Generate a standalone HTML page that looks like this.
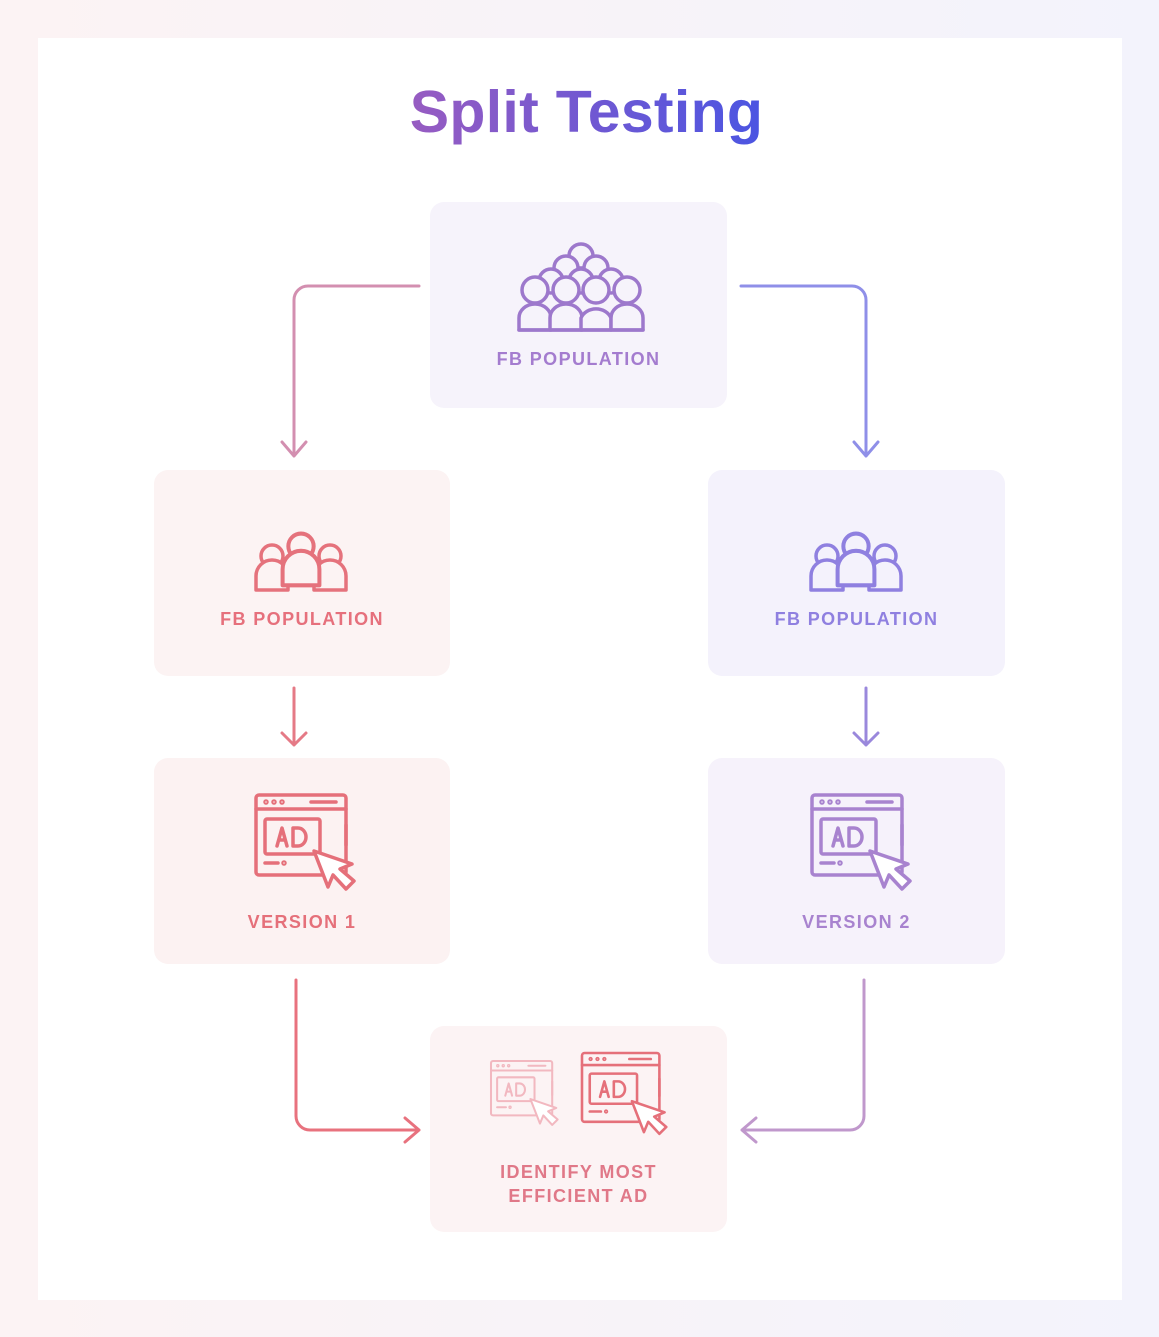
<!DOCTYPE html>
<html><head><meta charset="utf-8"><style>
html,body{margin:0;padding:0}
body{width:1159px;height:1337px;background:linear-gradient(90deg,#fcf3f4,#f3f3fc);position:relative;font-family:"Liberation Sans",sans-serif;overflow:hidden}
.card{position:absolute;left:38px;top:38px;width:1084px;height:1262px;background:#fff}
.box{position:absolute;border-radius:14px}
.lbl{position:absolute;width:100%;text-align:center;font-weight:bold;font-size:18px;letter-spacing:1.4px}
h1{position:absolute;top:78px;left:0;width:1159px;text-align:center;margin:0;font-size:59px;font-weight:bold;letter-spacing:0.3px}
h1 span{display:inline-block;padding-left:14px}
</style></head><body>
<div class="card"></div>
<h1><span style="background:linear-gradient(90deg,#9a5cc0,#4b55e2);-webkit-background-clip:text;background-clip:text;color:transparent">Split Testing</span></h1>

<div class="box" style="left:430px;top:202px;width:297px;height:206px;background:#f6f3fb"><div class="lbl" style="top:147px;color:#a47ccf">FB POPULATION</div></div>
<div class="box" style="left:154px;top:470px;width:296px;height:206px;background:#fcf3f3"><div class="lbl" style="top:139px;color:#e6707c">FB POPULATION</div></div>
<div class="box" style="left:708px;top:470px;width:297px;height:206px;background:#f4f2fc"><div class="lbl" style="top:139px;color:#8f80e0">FB POPULATION</div></div>
<div class="box" style="left:154px;top:758px;width:296px;height:206px;background:#fcf2f2"><div class="lbl" style="top:154px;color:#e5707a">VERSION 1</div></div>
<div class="box" style="left:708px;top:758px;width:297px;height:206px;background:#f6f2fb"><div class="lbl" style="top:154px;color:#a883cf">VERSION 2</div></div>
<div class="box" style="left:430px;top:1026px;width:297px;height:206px;background:#fcf3f4"><div class="lbl" style="top:134px;color:#e07888;line-height:24px">IDENTIFY MOST<br>EFFICIENT AD</div></div>

<svg width="1159" height="1337" style="position:absolute;left:0;top:0" fill="none" stroke-linecap="round" stroke-linejoin="round">
<defs>
<g id="p"><circle cx="0" cy="-12" r="11"/><path d="M-16 22 V8 a16 16 0 0 1 32 0 V22 Z"/></g>
<g id="ad">
<rect x="0" y="0" width="90" height="80" rx="3"/>
<line x1="0" y1="14" x2="90" y2="14"/>
<circle cx="10" cy="7" r="1"/><circle cx="18" cy="7" r="1"/><circle cx="26" cy="7" r="1"/>
<line x1="55" y1="7" x2="80" y2="7"/>
<rect x="9" y="24" width="55" height="35" rx="2"/>
<path d="M21 51 L26 33 L31 51 M23 45 H29 M37 33 V51 H42 a8 9 0 0 0 0 -18 Z"/>
<line x1="9" y1="68" x2="22" y2="68"/><circle cx="28" cy="68" r="1"/>
<line x1="90" y1="50" x2="90" y2="30"/>
<path d="M58 56 L72 92 L77 80 L90 94 L98 86 L84 74 L96 69 Z" fill="#fff"/>
</g>
</defs>
<g stroke="#9d78cc" stroke-width="3.5" fill="#f6f3fb">
<circle cx="581" cy="256" r="12"/>
<circle cx="566" cy="268" r="12"/><circle cx="596" cy="268" r="12"/>
<circle cx="551" cy="281" r="12"/><circle cx="581" cy="281" r="12"/><circle cx="611" cy="281" r="12"/>
<circle cx="535" cy="290" r="13"/><circle cx="566" cy="290" r="13"/><circle cx="596" cy="290" r="13"/><circle cx="627" cy="290" r="13"/>
<path d="M519 330 V318 a16 14 0 0 1 32 0 V330 Z"/>
<path d="M550 330 V318 a16 14 0 0 1 32 0 V330 Z"/>
<path d="M581 330 V318 a16 14 0 0 1 30 0 V330 Z"/>
<path d="M611 330 V318 a16 14 0 0 1 32 0 V330 Z"/>
<line x1="519" y1="330" x2="643" y2="330"/>
</g>
<g stroke="#e5727c" stroke-width="3.5" fill="#fcf3f3">
<use href="#p" transform="translate(272,568)"/><use href="#p" transform="translate(330,568)"/><use href="#p" transform="translate(301,560) scale(1.15)"/>
</g>
<g stroke="#8f80e0" stroke-width="3.5" fill="#f4f2fc">
<use href="#p" transform="translate(827,568)"/><use href="#p" transform="translate(885,568)"/><use href="#p" transform="translate(856,560) scale(1.15)"/>
</g>
<g stroke="#e5707a" stroke-width="3.5"><use href="#ad" transform="translate(256,795)"/></g>
<g stroke="#a883cf" stroke-width="3.5"><use href="#ad" transform="translate(812,795)"/></g>
<g stroke="#f2b8c0" stroke-width="3"><use href="#ad" transform="translate(491,1061) scale(0.68)"/></g>
<g stroke="#e5707a" stroke-width="3"><use href="#ad" transform="translate(582,1053) scale(0.86)"/></g>
<g stroke-width="3">
<path d="M419 286 H308 a14 14 0 0 0 -14 14 V456 M282 442 L294 456 L306 442" stroke="#d38fb0"/>
<path d="M741 286 H852 a14 14 0 0 1 14 14 V456 M854 442 L866 456 L878 442" stroke="#8f8fe8"/>
<path d="M294 688 V745 M282 733 L294 745 L306 733" stroke="#e57a86"/>
<path d="M866 688 V745 M854 733 L866 745 L878 733" stroke="#9a88dc"/>
<path d="M296 980 V1116 a14 14 0 0 0 14 14 H419 M405 1118 L419 1130 L405 1142" stroke="#e8727e"/>
<path d="M864 980 V1116 a14 14 0 0 1 -14 14 H742 M756 1118 L742 1130 L756 1142" stroke="#c098cc"/>
</g>
</svg>
</body></html>
